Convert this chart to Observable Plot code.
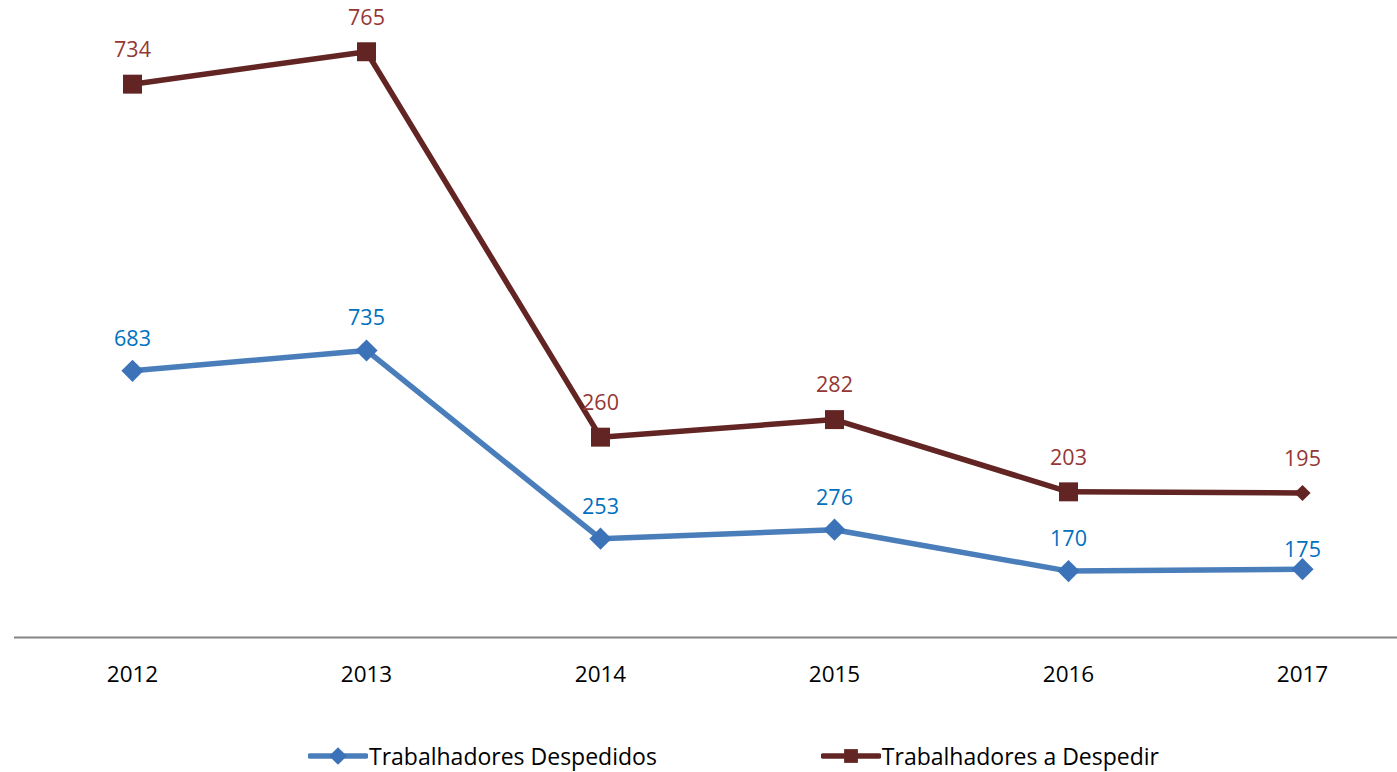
<!DOCTYPE html>
<html>
<head>
<meta charset="utf-8">
<script src="https://cdn.jsdelivr.net/npm/d3@7"></script>
<script src="https://cdn.jsdelivr.net/npm/@observablehq/plot@0.6"></script>
<style>
  html, body { margin: 0; padding: 0; background: #fff; }
  body { width: 1397px; height: 772px; overflow: hidden; font-family: "Open Sans", sans-serif; }
  #legend { display: flex; align-items: center; height: 32px; padding-left: 308px; font-size: 23px; color: #000; }
  .item { display: flex; align-items: center; }
  .item svg { display: block; }
</style>
</head>
<body>
<div id="chart"></div>
<div id="legend"></div>
<script>
const years = ["2012", "2013", "2014", "2015", "2016", "2017"];
const despedidos = [683, 735, 253, 276, 170, 175];
const aDespedir = [734, 765, 260, 282, 203, 195];
const seriesNames = ["Trabalhadores Despedidos", "Trabalhadores a Despedir"];

const blueLine = "#4A7EBB", blueMarker = "#3C72B8", blueText = "#0070C0";
const redLine = "#632523", redText = "#953735";

const blue = years.map((yr, i) => ({year: yr, value: despedidos[i], top: despedidos[i], last: i === years.length - 1}));
const red = years.map((yr, i) => ({year: yr, value: aDespedir[i], top: despedidos[i] + aDespedir[i], last: i === years.length - 1}));

const W = 1397, H = 740, base = 637;
const k = 0.3905;

const chart = Plot.plot({
  width: W,
  height: H,
  marginLeft: 14,
  marginRight: 0,
  marginTop: 0,
  marginBottom: H - base,
  style: {fontFamily: "'Open Sans', sans-serif", fontSize: "21px", color: "#000", background: "#fff"},
  x: {type: "point", domain: years, range: [131, 1302], padding: 0, label: null},
  y: {domain: [0, 1600], range: [base, base - 1600 * k], axis: null},
  marks: [
    Plot.ruleY([0], {stroke: "#868686", strokeWidth: 2}),
    Plot.axisX({tickSize: 0, tickPadding: 29, fontSize: 22.5, fill: "#000", label: null}),
    Plot.line(red, {x: "year", y: "top", stroke: redLine, strokeWidth: 5.5}),
    Plot.line(blue, {x: "year", y: "top", stroke: blueLine, strokeWidth: 5.5}),
    Plot.dot(red.filter(d => !d.last), {x: "year", y: "top", symbol: "square", r: 10.7, fill: redLine, stroke: null}),
    Plot.dot(red.filter(d => d.last), {x: "year", y: "top", symbol: "diamond2", r: 7.3, fill: redLine, stroke: null}),
    Plot.dot(blue, {x: "year", y: "top", symbol: "diamond2", r: 10, fill: blueMarker, stroke: null}),
    Plot.text(red, {x: "year", y: "top", text: "value", dy: -34, fill: redText, fontSize: 21.5}),
    Plot.text(blue.filter(d => !d.last), {x: "year", y: "top", text: "value", dy: -32, fill: blueText, fontSize: 21.5}),
    Plot.text(blue.filter(d => d.last), {x: "year", y: "top", text: "value", dy: -19, fill: blueText, fontSize: 21.5})
  ]
});
document.getElementById("chart").appendChild(chart);

// legend
const legend = document.getElementById("legend");
const specs = [
  {name: seriesNames[0], color: blueLine, marker: blueMarker, shape: "diamond"},
  {name: seriesNames[1], color: redLine, marker: redLine, shape: "square"}
];
specs.forEach((s, i) => {
  const item = document.createElement("div");
  item.className = "item";
  if (i > 0) item.style.marginLeft = "164px";
  const ns = "http://www.w3.org/2000/svg";
  const svg = document.createElementNS(ns, "svg");
  svg.setAttribute("width", 60);
  svg.setAttribute("height", 24);
  const ln = document.createElementNS(ns, "line");
  ln.setAttribute("x1", 2); ln.setAttribute("x2", 58); ln.setAttribute("y1", 12); ln.setAttribute("y2", 12);
  ln.setAttribute("stroke", s.color); ln.setAttribute("stroke-width", 5.5); ln.setAttribute("stroke-linecap", "round");
  svg.appendChild(ln);
  const sym = document.createElementNS(ns, "path");
  const type = s.shape === "diamond" ? d3.symbolDiamond2 : d3.symbolSquare;
  sym.setAttribute("d", d3.symbol(type, s.shape === "diamond" ? 200 : 190)());
  sym.setAttribute("transform", "translate(30,12)");
  sym.setAttribute("fill", s.marker);
  svg.appendChild(sym);
  item.appendChild(svg);
  const t = document.createElement("span");
  t.textContent = s.name;
  t.style.marginLeft = "1px";
  item.appendChild(t);
  legend.appendChild(item);
});
</script>
</body>
</html>
